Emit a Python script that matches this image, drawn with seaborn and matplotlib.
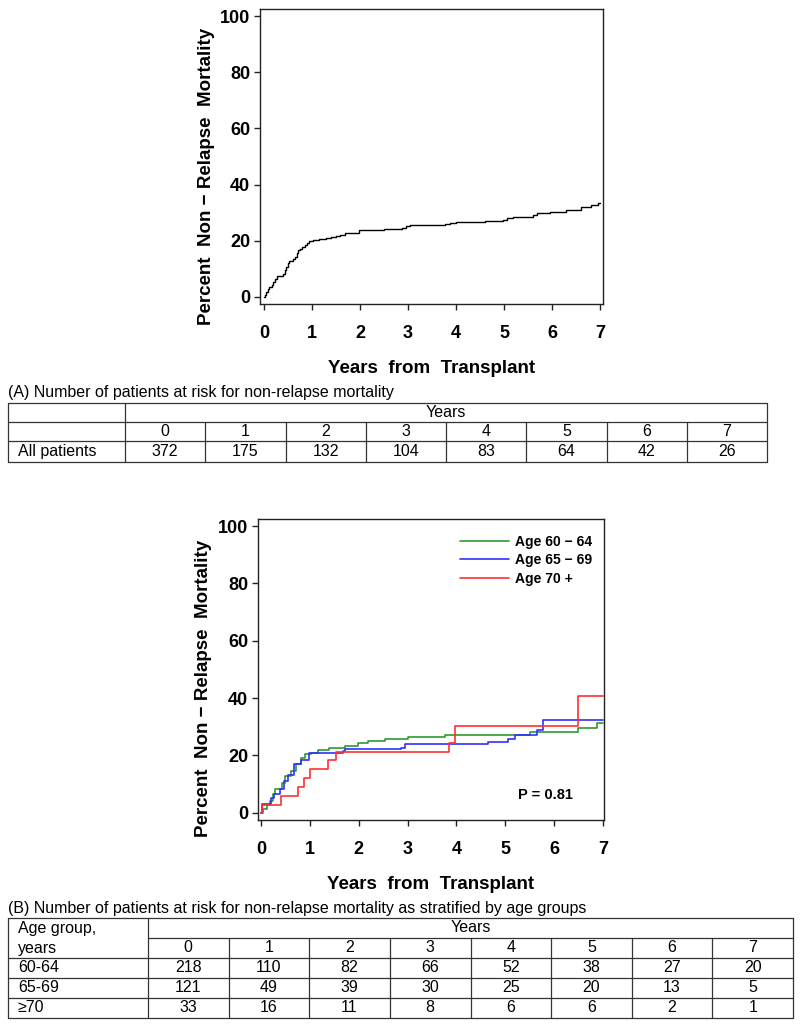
import numpy as np
import pandas as pd
import matplotlib
matplotlib.use("Agg")
import matplotlib.pyplot as plt
import seaborn as sns

# --- data ---
# (A) all patients: step times (years) and cumulative NRM (%)
all_t = [0.00, 0.02, 0.05, 0.08, 0.11, 0.16, 0.20, 0.24, 0.27, 0.40, 0.43, 0.46, 0.50,
         0.53, 0.60, 0.65, 0.68, 0.71, 0.76, 0.80, 0.86, 0.90, 0.95, 1.02, 1.15, 1.30,
         1.40, 1.50, 1.58, 1.69, 1.99, 2.20, 2.50, 2.88, 2.95, 3.04, 3.78, 3.87, 4.01,
         4.60, 4.98, 5.06, 5.19, 5.60, 5.68, 5.96, 6.30, 6.60, 6.80, 6.95, 7.00]
all_v = [0.0, 0.8, 1.9, 2.7, 3.5, 4.3, 5.5, 6.5, 7.5, 8.3, 9.6, 10.8, 12.1,
         12.9, 13.6, 14.3, 15.5, 16.7, 17.1, 17.9, 18.5, 19.3, 19.8, 20.3, 20.6, 20.9,
         21.2, 21.6, 22.0, 22.9, 23.8, 24.0, 24.3, 24.7, 25.1, 25.6, 25.9, 26.4, 26.8,
         27.0, 27.4, 28.0, 28.6, 29.2, 30.0, 30.4, 31.0, 32.0, 32.6, 33.3, 33.3]

# (B) by age group
g1_t = [0.00, 0.05, 0.12, 0.18, 0.25, 0.29, 0.41, 0.44, 0.50, 0.61, 0.72, 0.82, 0.91,
        1.02, 1.16, 1.40, 1.71, 1.98, 2.19, 2.53, 3.00, 3.76, 5.50, 6.49, 6.88, 7.00]
g1_v = [0.0, 1.2, 2.7, 4.1, 6.4, 8.2, 8.4, 10.5, 12.8, 14.6, 16.9, 19.0, 20.6,
        21.0, 21.8, 22.5, 23.3, 24.5, 25.1, 25.6, 26.5, 27.2, 28.3, 29.5, 31.5, 31.5]

g2_t = [0.00, 0.03, 0.20, 0.27, 0.38, 0.48, 0.55, 0.68, 0.82, 0.99, 1.67, 1.71,
        2.87, 2.94, 4.64, 5.05, 5.19, 5.64, 5.77, 7.00]
g2_v = [0.0, 3.1, 5.0, 6.6, 8.2, 11.1, 13.2, 17.1, 18.6, 20.9, 21.6, 22.1,
        22.5, 23.9, 24.6, 25.8, 27.2, 29.0, 32.3, 32.3]

g3_t = [0.00, 0.03, 0.41, 0.75, 0.89, 1.01, 1.38, 1.54, 3.85, 3.98, 6.49, 7.00]
g3_v = [0.0, 2.7, 5.8, 9.0, 12.0, 15.2, 18.3, 21.3, 24.5, 30.3, 40.6, 40.6]

group_labels = ["Age 60 \u2212 64", "Age 65 \u2212 69", "Age 70 +"]
group_colors = ["#2f9a2f", "#3030ff", "#ff3030"]

years = [0, 1, 2, 3, 4, 5, 6, 7]
risk_all = [372, 175, 132, 104, 83, 64, 42, 26]
age_rows = ["60-64", "65-69", "\u226570"]
risk_age = [[218, 110, 82, 66, 52, 38, 27, 20],
            [121, 49, 39, 30, 25, 20, 13, 5],
            [33, 16, 11, 8, 6, 6, 2, 1]]

sns.set_style("ticks")
plt.rcParams["font.family"] = ["Liberation Sans", "DejaVu Sans"]
plt.rcParams["text.color"] = "black"
plt.rcParams["axes.labelcolor"] = "black"
plt.rcParams["xtick.color"] = "black"
plt.rcParams["ytick.color"] = "black"

fig = plt.figure(figsize=(8, 10.26), dpi=100)


def style_axes(ax, ylab_xy):
    ax.set_xlim(-0.08, 7.06)
    ax.set_ylim(-2.5, 102.5)
    ax.set_xticks(years)
    ax.set_yticks([0, 20, 40, 60, 80, 100])
    for s in ax.spines.values():
        s.set_visible(True)
        s.set_linewidth(1.0)
        s.set_color("#222222")
    ax.tick_params(direction="out", length=4, width=1, color="#222222")
    ax.tick_params(axis="x", pad=11)
    ax.tick_params(axis="y", pad=3)
    for lab in ax.get_xticklabels() + ax.get_yticklabels():
        lab.set_fontweight("bold")
        lab.set_fontsize(13)
    ax.set_xlabel("Years  from  Transplant", fontsize=13.5, fontweight="bold", labelpad=13)
    ax.set_ylabel("Percent  Non \u2212 Relapse  Mortality", fontsize=13.5,
                  fontweight="bold")
    ax.yaxis.set_label_coords(*ylab_xy)


# --- top plot ---
ax1 = fig.add_axes([260 / 800, 1 - 304 / 1026, 343 / 800, 295 / 1026])
df_all = pd.DataFrame({"t": all_t, "v": all_v})
sns.lineplot(data=df_all, x="t", y="v", ax=ax1, color="black", lw=1.0,
             drawstyle="steps-post", estimator=None, sort=False)
style_axes(ax1, (-0.131, 0.434))

# --- bottom plot ---
ax2 = fig.add_axes([258 / 800, 1 - 820 / 1026, 346 / 800, 301 / 1026])
frames = []
for lab, t, v in zip(group_labels, [g1_t, g2_t, g3_t], [g1_v, g2_v, g3_v]):
    frames.append(pd.DataFrame({"t": t, "v": v, "group": lab}))
df_age = pd.concat(frames, ignore_index=True)
sns.lineplot(data=df_age, x="t", y="v", hue="group", ax=ax2,
             palette=dict(zip(group_labels, group_colors)), lw=1.2,
             drawstyle="steps-post", estimator=None, sort=False)
style_axes(ax2, (-0.134, 0.4385))
ax2.set_xlim(-0.06, 7.02)
ax2.legend(loc="upper left", bbox_to_anchor=(0.585, 0.948), frameon=False,
           prop={"weight": "bold", "size": 10}, handlelength=3.5, handletextpad=0.45,
           labelspacing=0.32, borderpad=0, borderaxespad=0)
ax2.text(0.83, 0.083, "P = 0.81", transform=ax2.transAxes, ha="center", va="center",
         fontsize=10.5, fontweight="bold")

# --- risk tables drawn in pixel coordinates ---
tab = fig.add_axes([0, 0, 1, 1], zorder=-1)
tab.set_xlim(0, 800)
tab.set_ylim(1026, 0)
tab.axis("off")
lc = "#333333"
lw = 0.9
fs = 11.5


def draw_table(top, rows_y, left, first_right, right, title, row_names, values, merged_first):
    ncol = len(years)
    colw = (right - first_right) / ncol
    xs = [first_right + i * colw for i in range(ncol + 1)]
    tab.text(left, top - 10, title, fontsize=fs, va="center", ha="left")
    # horizontal lines
    tab.plot([left, right], [rows_y[0], rows_y[0]], color=lc, lw=lw)
    tab.plot([left if not merged_first else first_right, right], [rows_y[1], rows_y[1]], color=lc, lw=lw)
    for y in rows_y[2:]:
        tab.plot([left, right], [y, y], color=lc, lw=lw)
    # vertical lines
    tab.plot([left, left], [rows_y[0], rows_y[-1]], color=lc, lw=lw)
    tab.plot([right, right], [rows_y[0], rows_y[-1]], color=lc, lw=lw)
    tab.plot([first_right, first_right], [rows_y[0], rows_y[-1]], color=lc, lw=lw)
    for x in xs[1:-1]:
        tab.plot([x, x], [rows_y[1], rows_y[-1]], color=lc, lw=lw)
    # header
    tab.text((first_right + right) / 2, (rows_y[0] + rows_y[1]) / 2, "Years",
             fontsize=fs, ha="center", va="center")
    for i, yr in enumerate(years):
        tab.text((xs[i] + xs[i + 1]) / 2, (rows_y[1] + rows_y[2]) / 2, str(yr),
                 fontsize=fs, ha="center", va="center")
    # body
    for r, (name, vals) in enumerate(zip(row_names, values)):
        yc = (rows_y[2 + r] + rows_y[3 + r]) / 2
        tab.text(left + 10, yc, name, fontsize=fs, ha="left", va="center")
        for i, val in enumerate(vals):
            tab.text((xs[i] + xs[i + 1]) / 2, yc, str(val), fontsize=fs,
                     ha="center", va="center")


draw_table(403, [403, 422, 441, 462], 8, 125, 767,
           "(A) Number of patients at risk for non-relapse mortality",
           ["All patients"], [risk_all], merged_first=False)

draw_table(918, [918, 938, 958, 978, 998, 1018], 8, 148, 793,
           "(B) Number of patients at risk for non-relapse mortality as stratified by age groups",
           age_rows, risk_age, merged_first=True)
tab.text(18, 928, "Age group,", fontsize=fs, ha="left", va="center")
tab.text(18, 948, "years", fontsize=fs, ha="left", va="center")

fig.savefig("out.png", dpi=100)
